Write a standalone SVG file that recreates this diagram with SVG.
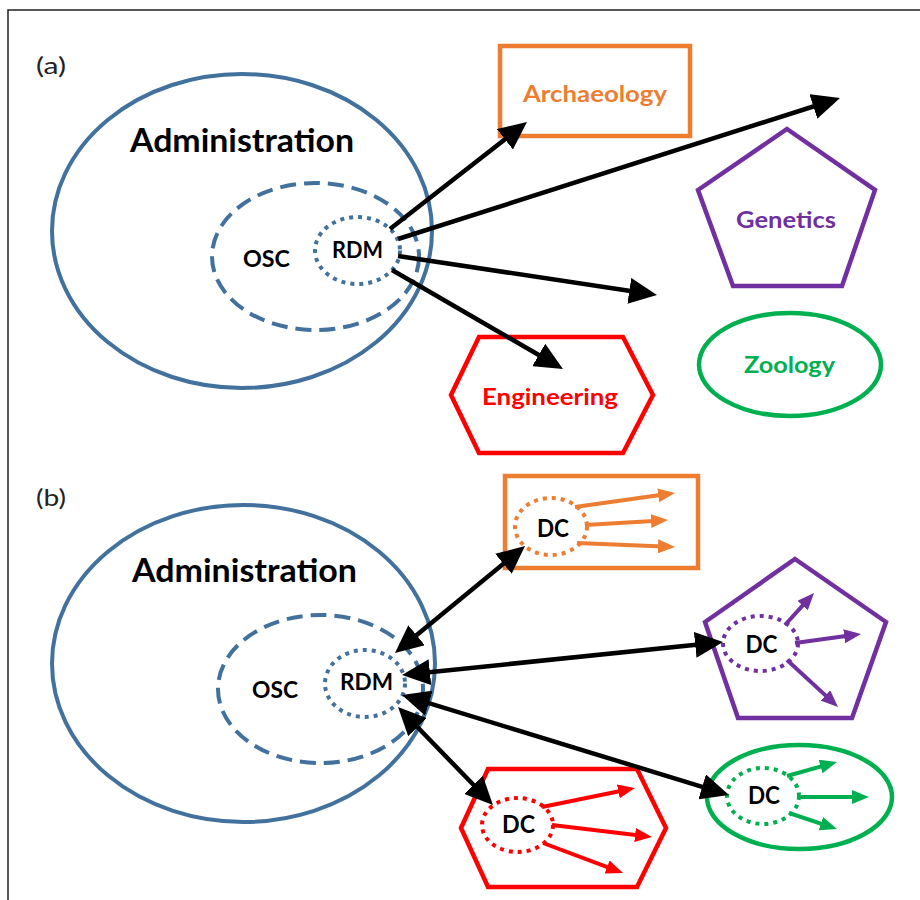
<svg xmlns="http://www.w3.org/2000/svg" width="920" height="900" viewBox="0 0 920 900">
<style>
.t{font-family:Lato,"Open Sans","Liberation Sans",sans-serif;font-weight:700;text-anchor:middle;}
.lbl{font-family:Lato,"Open Sans","Liberation Sans",sans-serif;font-weight:400;font-size:23px;fill:#222;}
.adm{fill:none;stroke:#41719C;stroke-width:4;}
.osc{fill:none;stroke:#41719C;stroke-width:4;stroke-dasharray:16 8;}
.rdm{fill:none;stroke:#41719C;stroke-width:4;stroke-dasharray:4 5;}
.dc{fill:none;stroke-width:4;stroke-dasharray:4 5;}
.blk{stroke:#000;stroke-width:4.5;fill:none;}
.sm{stroke-width:4;fill:none;}
</style>
<defs>
<marker id="ah" viewBox="0 0 28 26" markerWidth="28" markerHeight="26" refX="18" refY="13" orient="auto-start-reverse" markerUnits="userSpaceOnUse"><path d="M0,0 L28,13 L0,26 z" fill="#000"/></marker>
<marker id="ao" viewBox="0 0 17 14" markerWidth="17" markerHeight="14" refX="11" refY="7" orient="auto" markerUnits="userSpaceOnUse"><path d="M0,0 L17,7 L0,14 z" fill="#ED7D31"/></marker>
<marker id="ap" viewBox="0 0 17 14" markerWidth="17" markerHeight="14" refX="11" refY="7" orient="auto" markerUnits="userSpaceOnUse"><path d="M0,0 L17,7 L0,14 z" fill="#7030A0"/></marker>
<marker id="ag" viewBox="0 0 17 14" markerWidth="17" markerHeight="14" refX="11" refY="7" orient="auto" markerUnits="userSpaceOnUse"><path d="M0,0 L17,7 L0,14 z" fill="#00B050"/></marker>
<marker id="ar" viewBox="0 0 17 14" markerWidth="17" markerHeight="14" refX="11" refY="7" orient="auto" markerUnits="userSpaceOnUse"><path d="M0,0 L17,7 L0,14 z" fill="#FF0000"/></marker>
</defs>
<rect width="920" height="900" fill="#fff"/>
<path d="M8,900 V10 H920" fill="none" stroke="#222" stroke-width="1.5"/>
<text class="lbl" x="36" y="74" textLength="30" lengthAdjust="spacingAndGlyphs">(a)</text>
<text class="lbl" x="36" y="506" textLength="30" lengthAdjust="spacingAndGlyphs">(b)</text>

<!-- Panel (a) -->
<g id="a-administration">
<ellipse class="adm" cx="242" cy="231" rx="190" ry="157"/>
<text class="t" x="242" y="152" font-size="33" textLength="224" lengthAdjust="spacingAndGlyphs">Administration</text>
</g>
<g id="a-osc">
<ellipse class="osc" cx="315.5" cy="256.5" rx="103.5" ry="73.5"/>
<text class="t" x="266.5" y="267" font-size="23" textLength="47" lengthAdjust="spacingAndGlyphs">OSC</text>
</g>
<g id="a-rdm">
<ellipse class="rdm" cx="357.5" cy="250.5" rx="42.5" ry="33.5"/>
<text class="t" x="357.5" y="258" font-size="22" textLength="51" lengthAdjust="spacingAndGlyphs">RDM</text>
</g>
<g id="a-archaeology">
<rect x="500" y="46" width="190" height="90" fill="none" stroke="#ED7D31" stroke-width="4.5"/>
<text class="t" x="595" y="102" font-size="23" fill="#ED7D31" textLength="144" lengthAdjust="spacingAndGlyphs">Archaeology</text>
</g>
<g id="a-genetics">
<polygon points="787,129 875,190 842,286 733,286 698,190" fill="none" stroke="#7030A0" stroke-width="4.5"/>
<text class="t" x="786" y="228" font-size="23" fill="#7030A0" textLength="100" lengthAdjust="spacingAndGlyphs">Genetics</text>
</g>
<g id="a-zoology">
<ellipse cx="790" cy="364.5" rx="91" ry="51.5" fill="none" stroke="#00B050" stroke-width="4.5"/>
<text class="t" x="789.5" y="373" font-size="23" fill="#00B050" textLength="91" lengthAdjust="spacingAndGlyphs">Zoology</text>
</g>
<g id="a-engineering">
<polygon points="451,395 479,337 623,337 653,395 623,453 479,453" fill="none" stroke="#FF0000" stroke-width="4.5"/>
<text class="t" x="550" y="405" font-size="23" fill="#FF0000" textLength="136" lengthAdjust="spacingAndGlyphs">Engineering</text>
</g>

<!-- Panel (b) -->
<g id="b-administration">
<ellipse class="adm" cx="243.5" cy="663.5" rx="191.5" ry="158.5"/>
<text class="t" x="244.5" y="582" font-size="33" textLength="225" lengthAdjust="spacingAndGlyphs">Administration</text>
</g>
<g id="b-osc">
<ellipse class="osc" cx="320.5" cy="689" rx="102.5" ry="74"/>
<text class="t" x="275" y="698" font-size="23" textLength="46" lengthAdjust="spacingAndGlyphs">OSC</text>
</g>
<g id="b-rdm">
<ellipse class="rdm" cx="365" cy="683.5" rx="40" ry="33.5"/>
<text class="t" x="366.5" y="690" font-size="22" textLength="53" lengthAdjust="spacingAndGlyphs">RDM</text>
</g>
<g id="b-archaeology">
<rect x="505" y="476" width="193" height="92" fill="none" stroke="#ED7D31" stroke-width="4.5"/>
<ellipse class="dc" cx="551" cy="526.5" rx="36" ry="28.5" stroke="#ED7D31"/>
<text class="t" x="553" y="537" font-size="24" fill="#000" textLength="32" lengthAdjust="spacingAndGlyphs">DC</text>
</g>
<g id="b-genetics">
<polygon points="795,559 886,622 852,718 738,718 705,622" fill="none" stroke="#7030A0" stroke-width="4.5"/>
<ellipse class="dc" cx="760.5" cy="643.5" rx="37.5" ry="27.5" stroke="#7030A0"/>
<text class="t" x="761.5" y="653" font-size="24" fill="#000" textLength="32" lengthAdjust="spacingAndGlyphs">DC</text>
</g>
<g id="b-zoology">
<ellipse cx="799.5" cy="797" rx="92.5" ry="52" fill="none" stroke="#00B050" stroke-width="4.5"/>
<ellipse class="dc" cx="763" cy="796" rx="36" ry="28" stroke="#00B050"/>
<text class="t" x="764" y="804" font-size="24" fill="#000" textLength="32" lengthAdjust="spacingAndGlyphs">DC</text>
</g>
<g id="b-engineering">
<polygon points="461,828 488,769 637,769 666,828 637,887 488,887" fill="none" stroke="#FF0000" stroke-width="4.5"/>
<ellipse class="dc" cx="517.5" cy="825" rx="35.5" ry="27" stroke="#FF0000"/>
<text class="t" x="518.5" y="833" font-size="24" fill="#000" textLength="33" lengthAdjust="spacingAndGlyphs">DC</text>
</g>

<g id="connectors">
<line class="blk" x1="390" y1="229" x2="519.1" y2="128.2" marker-end="url(#ah)"/>
<line class="blk" x1="398" y1="239" x2="830.5" y2="101" marker-end="url(#ah)"/>
<line class="blk" x1="398" y1="256" x2="647.1" y2="293.5" marker-end="url(#ah)"/>
<line class="blk" x1="392" y1="270" x2="554.3" y2="364" marker-end="url(#ah)"/>

<line class="blk" x1="402.7" y1="646.6" x2="517.3" y2="552.4" marker-start="url(#ah)" marker-end="url(#ah)"/>
<line class="blk" x1="412" y1="674" x2="713.1" y2="643" marker-start="url(#ah)" marker-end="url(#ah)"/>
<line class="blk" x1="411.6" y1="697.9" x2="719.4" y2="792.1" marker-start="url(#ah)" marker-end="url(#ah)"/>
<line class="blk" x1="405" y1="714.2" x2="486" y2="797.8" marker-start="url(#ah)" marker-end="url(#ah)"/>

<g stroke="#ED7D31">
<line class="sm" x1="575" y1="507" x2="669.1" y2="493.8" marker-end="url(#ao)"/>
<line class="sm" x1="585" y1="525" x2="662" y2="520.4" marker-end="url(#ao)"/>
<line class="sm" x1="577" y1="543" x2="669" y2="546.8" marker-end="url(#ao)"/>
</g>
<g stroke="#7030A0">
<line class="sm" x1="785" y1="625" x2="810" y2="597.4" marker-end="url(#ap)"/>
<line class="sm" x1="795" y1="643" x2="855.1" y2="634.8" marker-end="url(#ap)"/>
<line class="sm" x1="787" y1="660" x2="833.6" y2="702.9" marker-end="url(#ap)"/>
</g>
<g stroke="#00B050">
<line class="sm" x1="787" y1="776" x2="831.2" y2="763.6" marker-end="url(#ag)"/>
<line class="sm" x1="798" y1="797" x2="863" y2="797" marker-end="url(#ag)"/>
<line class="sm" x1="789" y1="813" x2="831.3" y2="827.1" marker-end="url(#ag)"/>
</g>
<g stroke="#FF0000">
<line class="sm" x1="542" y1="807" x2="629.1" y2="789.2" marker-end="url(#ar)"/>
<line class="sm" x1="552" y1="825" x2="646" y2="836.3" marker-end="url(#ar)"/>
<line class="sm" x1="543" y1="843" x2="617.4" y2="870.9" marker-end="url(#ar)"/>
</g>
</g>
</svg>
